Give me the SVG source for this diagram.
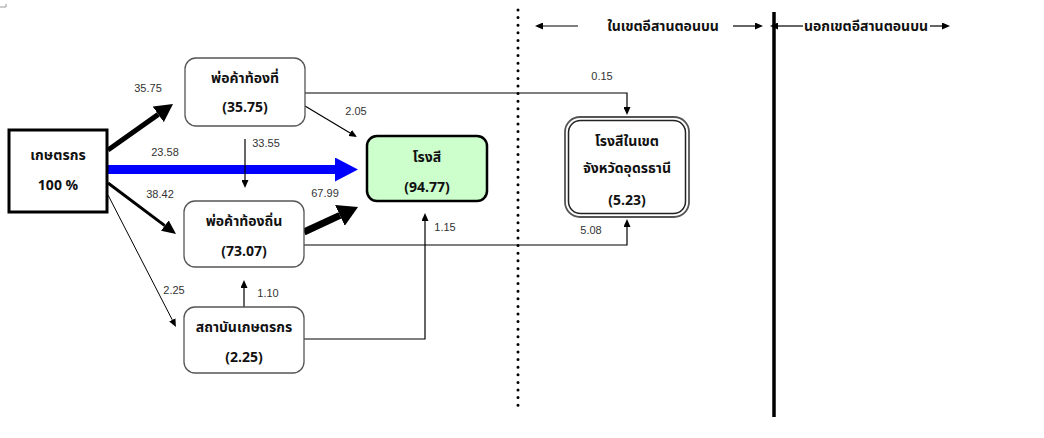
<svg xmlns="http://www.w3.org/2000/svg" width="1044" height="438" viewBox="0 0 1044 438">
<style>
.box{fill:#fff;stroke:#555;stroke-width:1.3}
.t{font-family:"Noto Sans Thai","Noto Sans","DejaVu Sans",sans-serif;font-weight:bold;font-size:14px;fill:#111;text-anchor:middle}
.n{font-family:"Liberation Sans",Arial,sans-serif;font-size:11px;fill:#333;text-anchor:middle}
.c{fill:none;stroke:#000}
</style>
<defs>
<marker id="ms" markerUnits="userSpaceOnUse" markerWidth="9" markerHeight="7" refX="0" refY="3.5" orient="auto"><path d="M0,0 L8,3.5 L0,7 z" fill="#000"/></marker>
<marker id="mm" markerUnits="userSpaceOnUse" markerWidth="15" markerHeight="13" refX="0" refY="6.5" orient="auto"><path d="M0,0 L14,6.5 L0,13 z" fill="#000"/></marker>
<marker id="ml" markerUnits="userSpaceOnUse" markerWidth="19" markerHeight="19" refX="0" refY="9.5" orient="auto"><path d="M0,0 L18,9.5 L0,19 z" fill="#000"/></marker>
<marker id="mx" markerUnits="userSpaceOnUse" markerWidth="21" markerHeight="23" refX="0" refY="11.5" orient="auto"><path d="M0,0 L20,11.5 L0,23 z" fill="#000"/></marker>
<marker id="mb" markerUnits="userSpaceOnUse" markerWidth="24" markerHeight="24" refX="0" refY="12" orient="auto"><path d="M0,0 L23,12 L0,24 z" fill="#0000ff"/></marker>
</defs>
<path d="M0,7 H6 V4" fill="none" stroke="#999" stroke-width="1"/>
<g id="dividers">
<line x1="518" y1="10" x2="518" y2="408" stroke="#000" stroke-width="3" stroke-linecap="round" stroke-dasharray="0 7.6"/>
<line x1="774" y1="12" x2="774" y2="417" stroke="#000" stroke-width="3.5"/>
</g>
<g id="header">
<line class="c" x1="578" y1="26" x2="543" y2="26" stroke-width="1.2" marker-end="url(#ms)"/>
<text class="t" x="663" y="31">ในเขตอีสานตอนบน</text>
<line class="c" x1="733" y1="26" x2="755" y2="26" stroke-width="1.2" marker-end="url(#ms)"/>
<line class="c" x1="803" y1="26" x2="778" y2="26" stroke-width="1.2" marker-end="url(#ms)"/>
<text class="t" x="866" y="31">นอกเขตอีสานตอนบน</text>
<line class="c" x1="930" y1="26" x2="942" y2="26" stroke-width="1.2" marker-end="url(#ms)"/>
</g>
<g id="connectors">
<line class="c" x1="108" y1="150" x2="158.3" y2="114.4" stroke-width="5" marker-end="url(#ml)"/>
<line x1="108" y1="169.5" x2="335" y2="169.5" stroke="#0000ff" stroke-width="9" marker-end="url(#mb)"/>
<line class="c" x1="108" y1="183" x2="164.8" y2="225.6" stroke-width="3" marker-end="url(#mm)"/>
<line class="c" x1="108" y1="195" x2="172.3" y2="319.9" stroke-width="1" marker-end="url(#ms)"/>
<line class="c" x1="245" y1="139" x2="245" y2="180" stroke-width="1.2" marker-end="url(#ms)"/>
<line class="c" x1="305" y1="106" x2="350.1" y2="132.9" stroke-width="1.2" marker-end="url(#ms)"/>
<path class="c" d="M305,93 H627 V107" stroke="#555" stroke-width="1.2" marker-end="url(#ms)"/>
<line class="c" x1="304" y1="232" x2="339.9" y2="215.4" stroke-width="7" marker-end="url(#mx)"/>
<path class="c" d="M304,245 H627 V227" stroke="#555" stroke-width="1.2" marker-end="url(#ms)"/>
<path class="c" d="M304,339 H425 V221" stroke="#555" stroke-width="1.2" marker-end="url(#ms)"/>
<line class="c" x1="244" y1="307" x2="244" y2="288" stroke-width="1.2" marker-end="url(#ms)"/>
<text class="n" x="148" y="92">35.75</text>
<text class="n" x="165" y="156">23.58</text>
<text class="n" x="160" y="198">38.42</text>
<text class="n" x="174" y="294">2.25</text>
<text class="n" x="266" y="147">33.55</text>
<text class="n" x="356" y="115">2.05</text>
<text class="n" x="602" y="80">0.15</text>
<text class="n" x="325" y="197">67.99</text>
<text class="n" x="591" y="234">5.08</text>
<text class="n" x="445" y="231">1.15</text>
<text class="n" x="268" y="297">1.10</text>
</g>
<g id="farmer">
<rect x="9" y="130" width="98" height="82" fill="#fff" stroke="#000" stroke-width="3"/>
<text class="t" x="58" y="160">เกษตรกร</text>
<text class="t" x="58" y="190">100 %</text>
</g>
<g id="local-trader">
<rect class="box" x="185" y="58" width="120" height="68" rx="11"/>
<text class="t" x="245" y="83">พ่อค้าท้องที่</text>
<text class="t" x="245" y="112">(35.75)</text>
</g>
<g id="regional-trader">
<rect class="box" x="184" y="201" width="120" height="66" rx="11"/>
<text class="t" x="244" y="226">พ่อค้าท้องถิ่น</text>
<text class="t" x="244" y="256">(73.07)</text>
</g>
<g id="institution">
<rect class="box" x="184" y="307" width="120" height="66" rx="11"/>
<text class="t" x="244" y="332">สถาบันเกษตรกร</text>
<text class="t" x="244" y="362">(2.25)</text>
</g>
<g id="mill">
<rect x="367" y="136" width="120" height="65" rx="10" fill="#ccffcc" stroke="#000" stroke-width="2.5"/>
<text class="t" x="427" y="162">โรงสี</text>
<text class="t" x="427" y="192">(94.77)</text>
</g>
<g id="udon-mill">
<rect x="565" y="117" width="124" height="100" rx="15" fill="#fff" stroke="#555" stroke-width="1.8"/>
<rect x="568.5" y="120.5" width="117" height="93" rx="12" fill="none" stroke="#222" stroke-width="1.5"/>
<text class="t" x="627" y="146">โรงสีในเขต</text>
<text class="t" x="627" y="173">จังหวัดอุดรธานี</text>
<text class="t" x="627" y="205">(5.23)</text>
</g>
</svg>
